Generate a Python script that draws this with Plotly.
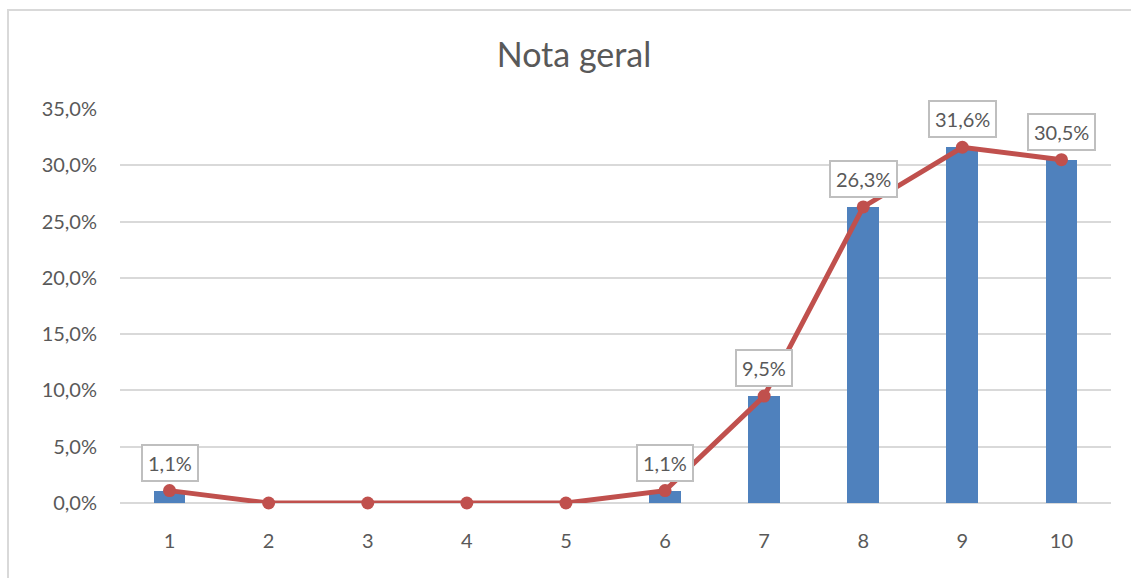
import plotly.graph_objects as go

# Distribution of overall grades (share of answers per grade)
notas = [1, 2, 3, 4, 5, 6, 7, 8, 9, 10]
percentuais = [1.1, 0.0, 0.0, 0.0, 0.0, 1.1, 9.5, 26.3, 31.6, 30.5]
y_ticks = [0, 5, 10, 15, 20, 25, 30, 35]

frac = [v / 100 for v in percentuais]

BAR_COLOR = "#4F81BD"
LINE_COLOR = "#C0504D"
TEXT_COLOR = "#595959"
GRID_COLOR = "#D9D9D9"
FONT = "Lato, 'Open Sans', sans-serif"

fig = go.Figure()

fig.add_trace(go.Bar(
    x=notas, y=frac, width=0.32,
    marker=dict(color=BAR_COLOR, line=dict(width=0)),
    hoverinfo="skip", showlegend=False,
))

fig.add_trace(go.Scatter(
    x=notas, y=frac, mode="lines+markers", cliponaxis=False,
    line=dict(color=LINE_COLOR, width=5),
    marker=dict(color=LINE_COLOR, size=13),
    showlegend=False,
))

def fmt_pct(v):
    return f"{v:.1f}".replace(".", ",") + "%"

for n, v in zip(notas, percentuais):
    if v > 0:
        fig.add_annotation(
            x=n, y=v / 100, text=fmt_pct(v), showarrow=False,
            yanchor="bottom", yshift=9,
            font=dict(family=FONT, size=20, color=TEXT_COLOR),
            bgcolor="white", bordercolor="#BFBFBF", borderwidth=2, borderpad=5,
        )

# Outer chart frame
fig.add_shape(type="path", xref="paper", yref="paper",
              path="M -0.113 -0.3 L -0.113 1.251 L 1.05 1.251",
              line=dict(color=GRID_COLOR, width=2))

fig.update_layout(
    width=1131, height=578,
    margin=dict(l=120, r=20, t=109, b=75),
    paper_bgcolor="white", plot_bgcolor="white",
    separators=",.",
    title=dict(text="Nota geral", x=574 / 1131, xanchor="center",
               y=1 - 55 / 578, yanchor="middle",
               font=dict(family=FONT, size=34, color=TEXT_COLOR)),
    font=dict(family=FONT, color=TEXT_COLOR),
    bargap=0,
)

fig.update_xaxes(
    range=[0.5, 10.5], tickmode="array", tickvals=notas,
    ticktext=[str(n) for n in notas],
    showgrid=False, zeroline=False, showline=False, ticks="",
    tickfont=dict(family=FONT, size=20, color=TEXT_COLOR),
    ticklabelstandoff=24,
)
fig.update_yaxes(
    range=[0, 0.35], tickmode="array", tickvals=[t / 100 for t in y_ticks],
    tickformat=".1%", showgrid=True, gridcolor=GRID_COLOR, gridwidth=2,
    zeroline=True, zerolinecolor=GRID_COLOR, zerolinewidth=2,
    showline=False, ticks="",
    tickfont=dict(family=FONT, size=20, color=TEXT_COLOR),
    ticklabelstandoff=22,
)

fig.write_html("out.html")
